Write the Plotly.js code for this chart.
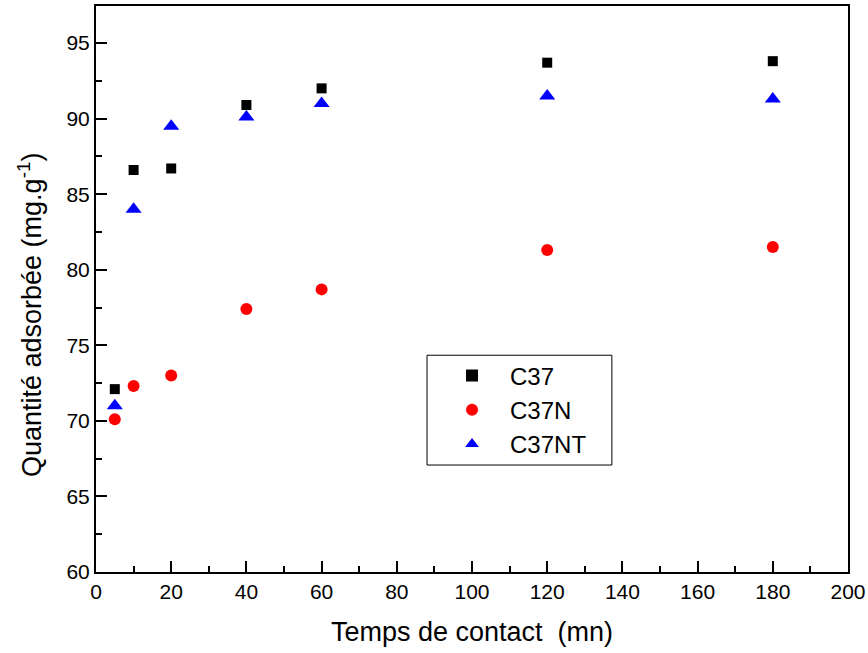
<!DOCTYPE html>
<html><head><meta charset="utf-8">
<script src="https://cdn.plot.ly/plotly-3.0.1.min.js"></script>
<style>body{margin:0;background:#fff}#chart{width:868px;height:653px}</style>
</head><body><div id="chart"></div>
<script>
const time = [5, 10, 20, 40, 60, 120, 180];
const c37 = [72.1, 86.6, 86.7, 90.9, 92.0, 93.7, 93.8];
const c37n = [70.1, 72.3, 73.0, 77.4, 78.7, 81.3, 81.5];
const c37nt = [71.0, 84.0, 89.5, 90.1, 91.0, 91.5, 91.3];
const xTicks = [0, 20, 40, 60, 80, 100, 120, 140, 160, 180, 200];
const yTicks = [60, 65, 70, 75, 80, 85, 90, 95];

const font = "Liberation Sans, Arial, sans-serif";
const traces = [
  {x: time, y: c37, name: "C37", mode: "markers", type: "scatter",
   marker: {symbol: "square", size: 10, color: "#000000"}},
  {x: time, y: c37n, name: "C37N", mode: "markers", type: "scatter",
   marker: {symbol: "circle", size: 12, color: "#ff0000"}},
  {x: time, y: c37nt, name: "C37NT", mode: "markers", type: "scatter",
   marker: {symbol: "triangle-up", size: 14, color: "#0000ff"}}
];
const axisCommon = {
  showline: true, linecolor: "#000", linewidth: 2, mirror: true,
  ticks: "inside", ticklen: 11, tickwidth: 2, tickcolor: "#000",
  showgrid: false, zeroline: false,
  tickfont: {family: font, size: 21, color: "#000"},
  minor: {ticks: "inside", ticklen: 6, tickwidth: 2, tickcolor: "#000", showgrid: false}
};
const layout = {
  width: 868, height: 653,
  margin: {l: 96, r: 20, t: 6, b: 81},
  paper_bgcolor: "#fff", plot_bgcolor: "#fff",
  showlegend: true,
  xaxis: Object.assign({}, axisCommon, {
    range: [0, 200], tickvals: xTicks, ticktext: xTicks.map(String),
    minor: Object.assign({}, axisCommon.minor, {dtick: 10, tick0: 0}),
    title: {text: "Temps de contact  (mn)", font: {family: font, size: 27, color: "#000"}, standoff: 20}
  }),
  yaxis: Object.assign({}, axisCommon, {
    range: [60, 97.45], tickvals: yTicks, ticktext: yTicks.map(String),
    minor: Object.assign({}, axisCommon.minor, {dtick: 2.5, tick0: 60})
  }),
  annotations: [{
    text: "Quantité adsorbée (mg.g<sup>-1</sup>)", textangle: -90,
    xref: "paper", yref: "paper", x: 0, y: 0.454, xshift: -66,
    xanchor: "center", yanchor: "middle", showarrow: false,
    font: {family: font, size: 27, color: "#000"}
  }],
  shapes: [{
    type: "rect", xref: "paper", yref: "paper",
    x0: 0.4402, x1: 0.686, y0: 0.189, y1: 0.383,
    line: {color: "#000", width: 1}, fillcolor: "rgba(0,0,0,0)", layer: "above"
  }],
  legend: {
    x: 0.4402, y: 0.386, xanchor: "left", yanchor: "top",
    borderwidth: 0, bgcolor: "rgba(255,255,255,0)",
    font: {family: font, size: 24, color: "#000"},
    itemsizing: "constant", indentation: 7, itemwidth: 66
  }
};
Plotly.newPlot("chart", traces, layout, {displayModeBar: false});
</script></body></html>
